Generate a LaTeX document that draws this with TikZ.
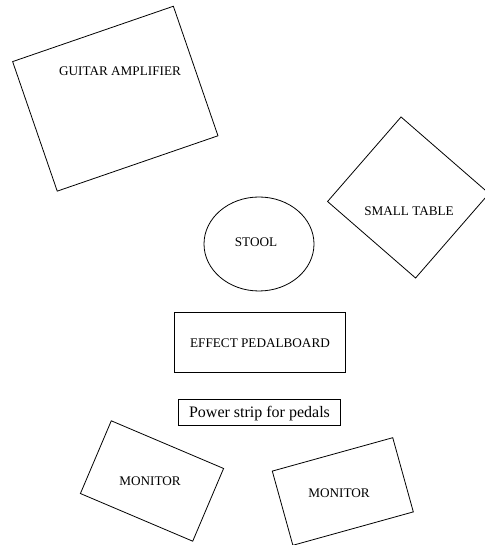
\documentclass[tikz,border=0pt]{standalone}
\usepackage{fontspec}
\setmainfont{Liberation Serif}
\usetikzlibrary{shapes.geometric}
\begin{document}
\begin{tikzpicture}[x=1pt,y=1pt,
  outlinebox/.style={draw=black,line width=0.8pt,inner sep=0pt,outer sep=0pt},
  boxtext/.style={inner sep=0pt,font=\fontsize{13.2}{15}\selectfont},
  striptext/.style={inner sep=0pt,font=\fontsize{16}{18}\selectfont}]
\useasboundingbox (0,0) rectangle (484,545);
% guitar amplifier
\node[outlinebox,rectangle,minimum width=170pt,minimum height=137pt,rotate=19] (amp) at (115.3,446.3) {};
\node[boxtext] (amptext) at (120,474) {GUITAR AMPLIFIER};
% small table
\node[outlinebox,rectangle,minimum width=116.6pt,minimum height=112pt,rotate=-41] (table) at (408.3,347.5) {};
\node[boxtext] (tabletext) at (409,334) {SMALL TABLE};
% stool
\node[outlinebox,ellipse,minimum width=110pt,minimum height=94pt] (stool) at (259,301) {};
\node[boxtext] (stooltext) at (256,302.3) {STOOL};
% pedalboard
\node[outlinebox,rectangle,minimum width=171pt,minimum height=60pt] (pedal) at (260.2,202.7) {};
\node[boxtext] (pedaltext) at (260,201.7) {EFFECT PEDALBOARD};
% power strip
\node[outlinebox,rectangle,minimum width=161.6pt,minimum height=26pt] (strip) at (259.5,133) {};
\node[striptext,anchor=base] (striptxt) at (259.5,127.5) {Power strip for pedals};
% monitors
\node[outlinebox,rectangle,minimum width=122pt,minimum height=79pt,rotate=-23] (mon1) at (152,64) {};
\node[boxtext] (mon1text) at (150,64) {MONITOR};
\node[outlinebox,rectangle,minimum width=125pt,minimum height=77pt,rotate=15.5] (mon2) at (342.8,53.5) {};
\node[boxtext] (mon2text) at (339,52.3) {MONITOR};
\end{tikzpicture}
\end{document}
